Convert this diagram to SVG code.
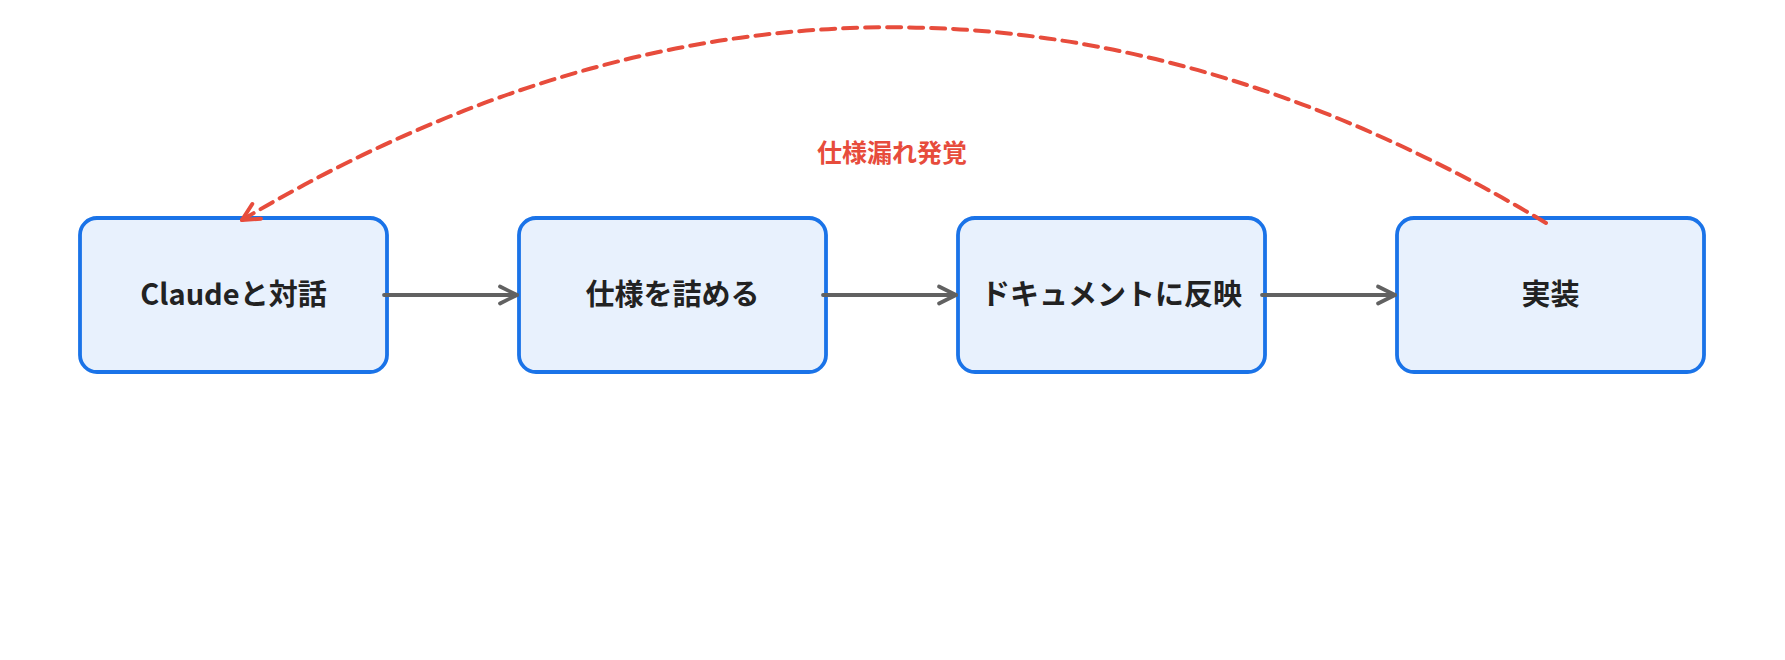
<svg xmlns="http://www.w3.org/2000/svg" width="1785" height="660" viewBox="0 0 1785 660">
  <style>
    .box { fill: #e8f1fd; stroke: #1a73e8; stroke-width: 3.8; }
    .label { font-family: "Noto Sans CJK JP", "Noto Sans", sans-serif; font-weight: bold; font-size: 29px; fill: #222222; text-anchor: middle; }
    .flow { fill: none; stroke: #616161; stroke-width: 3.8; stroke-linecap: round; }
    .loop { fill: none; stroke: #e74c3c; stroke-width: 4; stroke-dasharray: 14 8; stroke-linecap: round; }
    .loopText { font-family: "Noto Sans CJK JP", "Noto Sans", sans-serif; font-weight: bold; font-size: 25px; fill: #e74c3c; text-anchor: middle; }
  </style>
  <defs>
    <marker id="arrowGray" markerUnits="userSpaceOnUse" viewBox="-20 -12 24 24" refX="0" refY="0" markerWidth="24" markerHeight="24" orient="auto">
      <path d="M-17,-8.5 L0,0 L-17,8.5" fill="none" stroke="#616161" stroke-width="3.8" stroke-linecap="round" stroke-linejoin="round"/>
    </marker>
    <marker id="arrowRed" markerUnits="userSpaceOnUse" viewBox="-20 -12 24 24" refX="0" refY="0" markerWidth="24" markerHeight="24" orient="auto">
      <path d="M-17,-8.5 L0,0 L-17,8.5" fill="none" stroke="#e74c3c" stroke-width="4" stroke-linecap="round" stroke-linejoin="round"/>
    </marker>
  </defs>
  <rect width="1785" height="660" fill="#ffffff"/>

  <g id="node-claude">
    <rect class="box" x="80" y="218" width="307" height="154" rx="17"/>
    <text class="label" x="233.5" y="304.5">Claudeと対話</text>
  </g>
  <g id="node-spec">
    <rect class="box" x="519" y="218" width="307" height="154" rx="17"/>
    <text class="label" x="672.5" y="304.5">仕様を詰める</text>
  </g>
  <g id="node-doc">
    <rect class="box" x="958" y="218" width="307" height="154" rx="17"/>
    <text class="label" x="1111.5" y="304.5">ドキュメントに反映</text>
  </g>
  <g id="node-impl">
    <rect class="box" x="1397" y="218" width="307" height="154" rx="17"/>
    <text class="label" x="1550.5" y="304.5">実装</text>
  </g>

  <g id="connectors">
    <path class="flow" d="M384,295 L517,295" marker-end="url(#arrowGray)"/>
    <path class="flow" d="M823,295 L956,295" marker-end="url(#arrowGray)"/>
    <path class="flow" d="M1262,295 L1395,295" marker-end="url(#arrowGray)"/>
    <path class="loop" d="M1546,223 Q894,-167 242,220" marker-end="url(#arrowRed)"/>
    <text class="loopText" x="892" y="161.5">仕様漏れ発覚</text>
  </g>
</svg>
